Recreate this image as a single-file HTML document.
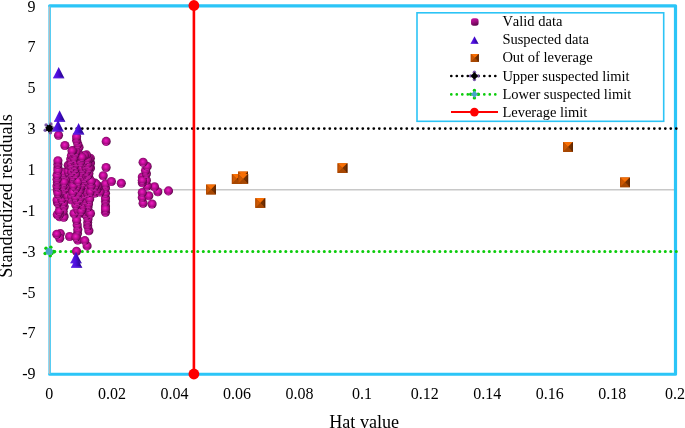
<!DOCTYPE html>
<html><head><meta charset="utf-8"><title>Williams plot</title>
<style>
html,body{margin:0;padding:0;background:#fff;}
body{width:685px;height:428px;overflow:hidden;font-family:"Liberation Serif",serif;}
svg{display:block;will-change:transform;}
text{font-family:"Liberation Serif",serif;fill:#000;font-kerning:none;}
</style></head><body>
<svg width="685" height="428" viewBox="0 0 685 428">
<defs>
<radialGradient id="gs" cx="0.47" cy="0.45" r="0.56" fx="0.46" fy="0.40">
<stop offset="0" stop-color="#f020c4"/><stop offset="0.36" stop-color="#cc10a2"/><stop offset="0.72" stop-color="#980a78"/><stop offset="1" stop-color="#46023a"/>
</radialGradient>
<g id="sp"><circle r="4.55" fill="url(#gs)"/><ellipse cx="-0.3" cy="3.55" rx="2.5" ry="0.85" fill="#f02cc8" opacity="0.55"/></g>
<linearGradient id="gl" x1="0" x2="0.3" y1="0" y2="1"><stop offset="0" stop-color="#c812a0"/><stop offset="0.5" stop-color="#a40e84"/><stop offset="1" stop-color="#640650"/></linearGradient>
<g id="sq"><rect x="-4.9" y="-4.9" width="9.8" height="9.8" fill="#a84802"/>
<path d="M-4.9-4.9H4.9L0 0Z" fill="#f76e04"/><path d="M-4.9-4.9L0 0L-4.9 4.9Z" fill="#cc5803"/><path d="M4.9-4.9L0 0L4.9 4.9Z" fill="#743000"/><path d="M-4.9 4.9L0 0L4.9 4.9Z" fill="#a64702"/><path d="M4.9-4.9V4.9L3.6 3.6V-3.6Z" fill="#4e1e00" opacity="0.6"/><path d="M-4.9-4.9V4.9L-3.9 3.9V-3.9Z" fill="#9a3c00" opacity="0.5"/></g>
<linearGradient id="gt" x1="0" x2="1" y1="0" y2="0"><stop offset="0" stop-color="#6224ea"/><stop offset="0.42" stop-color="#4c0cdc"/><stop offset="0.62" stop-color="#3a08b8"/><stop offset="1" stop-color="#1c0670"/></linearGradient>
<g id="tr"><path d="M0 -0.2L5.7 11.2H-5.7Z" fill="url(#gt)"/><path d="M-5.7 11.2L-4.9 9.6H4.9L5.7 11.2Z" fill="#5a1ee6" opacity="0.7"/></g>
</defs>
<rect width="685" height="428" fill="#fff"/>

<line x1="49.5" x2="675.5" y1="189.75" y2="189.75" stroke="#c8c8c8" stroke-width="1.6"/>
<path d="M49.7 5.8H675.5V374.25H49.7" fill="none" stroke="#2bc5f7" stroke-width="3.2" stroke-linejoin="round" stroke-linecap="round"/>
<line x1="49.65" x2="49.65" y1="5.5" y2="374.25" stroke="#3ec9f7" stroke-width="2.5"/>
<line x1="49.5" x2="49.5" y1="6.5" y2="374.0" stroke="#b6b6b6" stroke-width="1.15"/>
<line x1="49.3" x2="677" y1="128.53" y2="128.53" stroke="#000" stroke-width="2.8" stroke-linecap="round" stroke-dasharray="0 5.5"/>
<line x1="49.3" x2="677" y1="251.47" y2="251.47" stroke="#0ccc0c" stroke-width="3.1" stroke-linecap="round" stroke-dasharray="0 5.5"/>
<g transform="translate(49.3,128.3) scale(1.0)"><circle cx="-3.18" cy="-3.18" r="1.75" fill="#7a58a8"/><circle cx="1.61" cy="-4.20" r="1.75" fill="#7a58a8"/><circle cx="4.50" cy="0.16" r="2.0" fill="#7a58a8"/><circle cx="1.09" cy="4.37" r="1.75" fill="#7a58a8"/><circle cx="-4.08" cy="1.90" r="1.75" fill="#7a58a8"/><circle cx="3.07" cy="2.40" r="1.1" fill="#7a58a8"/><circle r="3.1" fill="#000"/></g><polygon points="53.53,129.05 51.75,129.86 51.77,131.82 49.93,131.13 48.55,132.53 47.74,130.75 45.78,130.77 46.47,128.93 45.07,127.55 46.85,126.74 46.83,124.78 48.67,125.47 50.05,124.07 50.86,125.85 52.82,125.83 52.13,127.67" fill="#000"/>
<g transform="translate(49.2,251.5) scale(1.0)"><circle cx="-3.18" cy="-3.18" r="1.75" fill="#0ccc0c"/><circle cx="1.61" cy="-4.20" r="1.75" fill="#0ccc0c"/><circle cx="4.50" cy="0.16" r="2.0" fill="#0ccc0c"/><circle cx="1.09" cy="4.37" r="1.75" fill="#0ccc0c"/><circle cx="-4.08" cy="1.90" r="1.75" fill="#0ccc0c"/><circle cx="3.07" cy="2.40" r="1.1" fill="#0ccc0c"/><circle r="3.6" fill="#48a4c6"/></g>
<g>
<use href="#sp" x="76.5" y="251.2"/>
<use href="#sp" x="87.1" y="245.9"/>
<use href="#sp" x="77.8" y="240.0"/>
<use href="#sp" x="84.8" y="240.6"/>
<use href="#sp" x="77.5" y="233.5"/>
<use href="#sp" x="60.3" y="233.6"/>
<use href="#sp" x="59.7" y="238.3"/>
<use href="#sp" x="69.6" y="236.5"/>
<use href="#sp" x="76.0" y="237.1"/>
<use href="#sp" x="77.8" y="229.5"/>
<use href="#sp" x="56.8" y="234.2"/>
<use href="#sp" x="88.9" y="230.7"/>
<use href="#sp" x="87.7" y="226.0"/>
<use href="#sp" x="77.2" y="224.9"/>
<use href="#sp" x="87.7" y="222.5"/>
<use href="#sp" x="88.0" y="219.0"/>
<use href="#sp" x="76.0" y="215.5"/>
<use href="#sp" x="84.0" y="213.5"/>
<use href="#sp" x="86.5" y="215.5"/>
<use href="#sp" x="76.6" y="220.2"/>
<use href="#sp" x="59.7" y="216.7"/>
<use href="#sp" x="64.0" y="215.9"/>
<use href="#sp" x="85.1" y="213.1"/>
<use href="#sp" x="63.8" y="217.3"/>
<use href="#sp" x="79.0" y="213.5"/>
<use href="#sp" x="63.2" y="211.3"/>
<use href="#sp" x="74.0" y="213.5"/>
<use href="#sp" x="89.0" y="212.5"/>
<use href="#sp" x="59.7" y="214.3"/>
<use href="#sp" x="86.8" y="208.7"/>
<use href="#sp" x="90.5" y="213.5"/>
<use href="#sp" x="57.3" y="214.8"/>
<use href="#sp" x="88.0" y="207.1"/>
<use href="#sp" x="81.1" y="206.1"/>
<use href="#sp" x="82.0" y="209.8"/>
<use href="#sp" x="105.5" y="212.3"/>
<use href="#sp" x="78.1" y="210.4"/>
<use href="#sp" x="59.8" y="206.7"/>
<use href="#sp" x="81.1" y="210.7"/>
<use href="#sp" x="84.7" y="204.2"/>
<use href="#sp" x="59.2" y="211.2"/>
<use href="#sp" x="105.5" y="206.0"/>
<use href="#sp" x="64.2" y="206.6"/>
<use href="#sp" x="105.5" y="209.0"/>
<use href="#sp" x="143.1" y="203.2"/>
<use href="#sp" x="105.5" y="201.5"/>
<use href="#sp" x="70.9" y="199.8"/>
<use href="#sp" x="63.5" y="203.1"/>
<use href="#sp" x="57.5" y="202.7"/>
<use href="#sp" x="57.1" y="200.0"/>
<use href="#sp" x="152.1" y="204.0"/>
<use href="#sp" x="83.1" y="205.8"/>
<use href="#sp" x="75.8" y="205.0"/>
<use href="#sp" x="80.4" y="201.6"/>
<use href="#sp" x="83.2" y="199.1"/>
<use href="#sp" x="84.4" y="202.4"/>
<use href="#sp" x="77.2" y="201.1"/>
<use href="#sp" x="88.5" y="203.9"/>
<use href="#sp" x="61.8" y="199.1"/>
<use href="#sp" x="84.9" y="200.0"/>
<use href="#sp" x="142.3" y="197.5"/>
<use href="#sp" x="61.7" y="194.6"/>
<use href="#sp" x="86.3" y="196.8"/>
<use href="#sp" x="67.6" y="195.8"/>
<use href="#sp" x="105.5" y="198.0"/>
<use href="#sp" x="87.4" y="195.5"/>
<use href="#sp" x="80.2" y="198.1"/>
<use href="#sp" x="91.1" y="194.3"/>
<use href="#sp" x="148.8" y="195.8"/>
<use href="#sp" x="142.3" y="192.5"/>
<use href="#sp" x="157.8" y="191.7"/>
<use href="#sp" x="89.7" y="199.1"/>
<use href="#sp" x="105.5" y="193.2"/>
<use href="#sp" x="58.9" y="194.7"/>
<use href="#sp" x="71.4" y="196.1"/>
<use href="#sp" x="75.3" y="197.1"/>
<use href="#sp" x="98.3" y="190.8"/>
<use href="#sp" x="79.9" y="194.4"/>
<use href="#sp" x="94.6" y="191.0"/>
<use href="#sp" x="57.3" y="189.5"/>
<use href="#sp" x="82.0" y="190.5"/>
<use href="#sp" x="84.2" y="194.1"/>
<use href="#sp" x="57.7" y="190.5"/>
<use href="#sp" x="68.7" y="190.4"/>
<use href="#sp" x="71.9" y="189.1"/>
<use href="#sp" x="77.7" y="193.6"/>
<use href="#sp" x="87.3" y="193.0"/>
<use href="#sp" x="63.8" y="189.8"/>
<use href="#sp" x="89.1" y="187.6"/>
<use href="#sp" x="85.9" y="188.7"/>
<use href="#sp" x="66.2" y="186.7"/>
<use href="#sp" x="95.0" y="193.0"/>
<use href="#sp" x="72.8" y="192.3"/>
<use href="#sp" x="57.8" y="193.0"/>
<use href="#sp" x="105.5" y="188.0"/>
<use href="#sp" x="79.8" y="190.5"/>
<use href="#sp" x="82.0" y="186.0"/>
<use href="#sp" x="58.3" y="187.1"/>
<use href="#sp" x="93.6" y="188.6"/>
<use href="#sp" x="90.4" y="191.7"/>
<use href="#sp" x="100.0" y="192.0"/>
<use href="#sp" x="154.5" y="186.8"/>
<use href="#sp" x="99.0" y="186.5"/>
<use href="#sp" x="168.5" y="190.9"/>
<use href="#sp" x="63.3" y="185.7"/>
<use href="#sp" x="105.5" y="183.9"/>
<use href="#sp" x="96.8" y="189.7"/>
<use href="#sp" x="121.3" y="183.3"/>
<use href="#sp" x="86.5" y="183.8"/>
<use href="#sp" x="80.6" y="186.5"/>
<use href="#sp" x="66.2" y="182.1"/>
<use href="#sp" x="76.1" y="188.1"/>
<use href="#sp" x="95.0" y="183.1"/>
<use href="#sp" x="97.5" y="186.0"/>
<use href="#sp" x="77.4" y="185.2"/>
<use href="#sp" x="147.2" y="186.0"/>
<use href="#sp" x="83.8" y="182.1"/>
<use href="#sp" x="58.4" y="182.2"/>
<use href="#sp" x="94.7" y="186.9"/>
<use href="#sp" x="111.4" y="181.5"/>
<use href="#sp" x="88.5" y="182.9"/>
<use href="#sp" x="86.2" y="179.7"/>
<use href="#sp" x="96.0" y="184.0"/>
<use href="#sp" x="57.0" y="186.0"/>
<use href="#sp" x="57.4" y="182.5"/>
<use href="#sp" x="91.1" y="185.7"/>
<use href="#sp" x="73.2" y="185.5"/>
<use href="#sp" x="72.8" y="179.7"/>
<use href="#sp" x="76.9" y="180.9"/>
<use href="#sp" x="146.4" y="180.3"/>
<use href="#sp" x="142.3" y="182.7"/>
<use href="#sp" x="78.6" y="177.5"/>
<use href="#sp" x="142.3" y="177.0"/>
<use href="#sp" x="74.4" y="177.4"/>
<use href="#sp" x="63.5" y="177.8"/>
<use href="#sp" x="65.9" y="178.9"/>
<use href="#sp" x="89.4" y="178.8"/>
<use href="#sp" x="91.1" y="181.3"/>
<use href="#sp" x="78.1" y="181.3"/>
<use href="#sp" x="142.3" y="180.3"/>
<use href="#sp" x="64.1" y="182.1"/>
<use href="#sp" x="57.1" y="179.2"/>
<use href="#sp" x="66.8" y="174.5"/>
<use href="#sp" x="84.1" y="174.2"/>
<use href="#sp" x="72.7" y="176.2"/>
<use href="#sp" x="81.9" y="173.6"/>
<use href="#sp" x="74.9" y="173.6"/>
<use href="#sp" x="103.2" y="175.7"/>
<use href="#sp" x="84.1" y="178.0"/>
<use href="#sp" x="69.0" y="172.4"/>
<use href="#sp" x="80.5" y="174.1"/>
<use href="#sp" x="86.7" y="176.3"/>
<use href="#sp" x="88.1" y="175.1"/>
<use href="#sp" x="57.9" y="173.6"/>
<use href="#sp" x="63.8" y="173.9"/>
<use href="#sp" x="63.2" y="172.4"/>
<use href="#sp" x="87.5" y="171.4"/>
<use href="#sp" x="79.6" y="170.0"/>
<use href="#sp" x="68.1" y="171.1"/>
<use href="#sp" x="57.1" y="175.3"/>
<use href="#sp" x="146.4" y="173.7"/>
<use href="#sp" x="88.9" y="173.6"/>
<use href="#sp" x="75.5" y="173.9"/>
<use href="#sp" x="90.5" y="168.0"/>
<use href="#sp" x="86.6" y="171.5"/>
<use href="#sp" x="145.5" y="170.5"/>
<use href="#sp" x="68.2" y="165.3"/>
<use href="#sp" x="77.3" y="165.1"/>
<use href="#sp" x="71.6" y="171.7"/>
<use href="#sp" x="106.1" y="167.5"/>
<use href="#sp" x="57.9" y="167.7"/>
<use href="#sp" x="82.7" y="169.8"/>
<use href="#sp" x="74.3" y="169.9"/>
<use href="#sp" x="57.9" y="170.4"/>
<use href="#sp" x="76.0" y="167.7"/>
<use href="#sp" x="88.6" y="167.8"/>
<use href="#sp" x="84.1" y="166.7"/>
<use href="#sp" x="81.9" y="167.7"/>
<use href="#sp" x="90.5" y="163.0"/>
<use href="#sp" x="69.0" y="165.4"/>
<use href="#sp" x="85.9" y="167.2"/>
<use href="#sp" x="71.2" y="166.8"/>
<use href="#sp" x="88.9" y="167.7"/>
<use href="#sp" x="87.7" y="163.0"/>
<use href="#sp" x="74.6" y="165.1"/>
<use href="#sp" x="78.9" y="161.6"/>
<use href="#sp" x="85.8" y="164.4"/>
<use href="#sp" x="147.2" y="166.4"/>
<use href="#sp" x="87.7" y="163.8"/>
<use href="#sp" x="71.0" y="163.4"/>
<use href="#sp" x="57.9" y="164.2"/>
<use href="#sp" x="83.4" y="161.4"/>
<use href="#sp" x="57.9" y="160.7"/>
<use href="#sp" x="74.9" y="161.9"/>
<use href="#sp" x="76.0" y="157.2"/>
<use href="#sp" x="90.3" y="158.2"/>
<use href="#sp" x="85.8" y="159.5"/>
<use href="#sp" x="88.9" y="159.0"/>
<use href="#sp" x="143.1" y="162.3"/>
<use href="#sp" x="76.7" y="161.8"/>
<use href="#sp" x="80.7" y="161.9"/>
<use href="#sp" x="87.4" y="159.1"/>
<use href="#sp" x="86.5" y="154.9"/>
<use href="#sp" x="70.7" y="159.1"/>
<use href="#sp" x="79.9" y="158.4"/>
<use href="#sp" x="84.4" y="155.5"/>
<use href="#sp" x="71.4" y="155.6"/>
<use href="#sp" x="73.9" y="157.8"/>
<use href="#sp" x="81.0" y="156.9"/>
<use href="#sp" x="78.5" y="154.0"/>
<use href="#sp" x="81.9" y="157.2"/>
<use href="#sp" x="74.9" y="154.5"/>
<use href="#sp" x="79.0" y="147.3"/>
<use href="#sp" x="76.0" y="151.4"/>
<use href="#sp" x="73.0" y="150.6"/>
<use href="#sp" x="72.0" y="150.8"/>
<use href="#sp" x="64.9" y="145.5"/>
<use href="#sp" x="77.8" y="144.0"/>
<use href="#sp" x="76.6" y="140.3"/>
<use href="#sp" x="106.2" y="141.4"/>
<use href="#sp" x="76.6" y="136.8"/>
<use href="#sp" x="58.5" y="135.2"/>
</g>
<use href="#tr" x="58.7" y="67.1"/>
<use href="#tr" x="59.6" y="110.5"/>
<use href="#tr" x="58.0" y="120.2"/>
<use href="#tr" x="78.6" y="123.2"/>
<use href="#tr" x="76.0" y="252.0"/>
<use href="#tr" x="76.6" y="256.6"/>
<use href="#sq" x="211.0" y="189.5"/>
<use href="#sq" x="236.8" y="179.0"/>
<use href="#sq" x="243.1" y="176.5"/>
<use href="#sq" x="243.2" y="178.9"/>
<use href="#sq" x="260.3" y="203.0"/>
<use href="#sq" x="342.5" y="168.1"/>
<use href="#sq" x="568.0" y="147.0"/>
<use href="#sq" x="625.0" y="182.3"/>
<line x1="193.9" x2="193.9" y1="5.5" y2="374.0" stroke="#fe0000" stroke-width="2.6"/>
<circle cx="193.9" cy="5.5" r="5.4" fill="#fe0000"/><circle cx="193.9" cy="374.0" r="5.4" fill="#fe0000"/>
<rect x="417" y="12.8" width="246.7" height="108.5" fill="#fff" stroke="#2cc4f6" stroke-width="1.6"/>
<rect x="471" y="18.3" width="7.6" height="7.4" rx="2.6" fill="url(#gl)"/>
<use href="#tr" transform="translate(474.5,36.3) scale(0.70,0.67)"/>
<use href="#sq" transform="translate(474.8,58) scale(0.81)"/>
<line x1="451.3" x2="496" y1="76.0" y2="76.0" stroke="#000" stroke-width="2.7" stroke-linecap="round" stroke-dasharray="0 5.5"/>
<g transform="translate(474.4,75.9)"><circle cx="0" cy="-3.7" r="1.7" fill="#7c5aaa"/><circle cx="3.7" cy="0" r="1.7" fill="#7c5aaa"/><circle cx="0" cy="3.7" r="1.7" fill="#7c5aaa"/><circle cx="-3.7" cy="0" r="1.7" fill="#7c5aaa"/><rect x="-2.7" y="-2.7" width="5.4" height="5.4" transform="rotate(45)" fill="#000"/></g>
<line x1="451.3" x2="496" y1="94.4" y2="94.4" stroke="#0ccc0c" stroke-width="2.7" stroke-linecap="round" stroke-dasharray="0 5.5"/>
<g transform="translate(474.4,94.2)"><circle cx="0" cy="-3.7" r="1.7" fill="#0ccc0c"/><circle cx="3.7" cy="0" r="1.7" fill="#0ccc0c"/><circle cx="0" cy="3.7" r="1.7" fill="#0ccc0c"/><circle cx="-3.7" cy="0" r="1.7" fill="#0ccc0c"/><rect x="-2.5" y="-2.5" width="5.0" height="5.0" transform="rotate(45)" fill="#48a4c6"/></g>
<line x1="451" x2="498" y1="112.1" y2="112.1" stroke="#fe0000" stroke-width="2"/><circle cx="474.4" cy="112.1" r="4.35" fill="#fe0000"/>
<text x="502.4" y="25.9" font-size="14.5">Valid data</text>
<text x="502.4" y="44.0" font-size="14.5">Suspected data</text>
<text x="502.4" y="62.4" font-size="14.5">Out of leverage</text>
<text x="502.4" y="80.6" font-size="14.5">Upper suspected limit</text>
<text x="502.4" y="98.7" font-size="14.5">Lower suspected limit</text>
<text x="502.4" y="116.6" font-size="14.5">Leverage limit</text>
<text x="35.6" y="12.0" font-size="16" text-anchor="end">9</text>
<text x="35.6" y="52.3" font-size="16" text-anchor="end">7</text>
<text x="35.6" y="93.1" font-size="16" text-anchor="end">5</text>
<text x="35.6" y="134.0" font-size="16" text-anchor="end">3</text>
<text x="35.6" y="174.9" font-size="16" text-anchor="end">1</text>
<text x="35.6" y="215.8" font-size="16" text-anchor="end">-1</text>
<text x="35.6" y="256.7" font-size="16" text-anchor="end">-3</text>
<text x="35.6" y="297.6" font-size="16" text-anchor="end">-5</text>
<text x="35.6" y="338.4" font-size="16" text-anchor="end">-7</text>
<text x="35.6" y="379.3" font-size="16" text-anchor="end">-9</text>
<text x="49.3" y="398.7" font-size="16" text-anchor="middle">0</text>
<text x="111.9" y="398.7" font-size="16" text-anchor="middle">0.02</text>
<text x="174.4" y="398.7" font-size="16" text-anchor="middle">0.04</text>
<text x="237.0" y="398.7" font-size="16" text-anchor="middle">0.06</text>
<text x="299.5" y="398.7" font-size="16" text-anchor="middle">0.08</text>
<text x="362.1" y="398.7" font-size="16" text-anchor="middle">0.1</text>
<text x="424.7" y="398.7" font-size="16" text-anchor="middle">0.12</text>
<text x="487.2" y="398.7" font-size="16" text-anchor="middle">0.14</text>
<text x="549.8" y="398.7" font-size="16" text-anchor="middle">0.16</text>
<text x="612.3" y="398.7" font-size="16" text-anchor="middle">0.18</text>
<text x="674.9" y="398.7" font-size="16" text-anchor="middle">0.2</text>
<text x="364.2" y="428.1" font-size="18.1" text-anchor="middle">Hat value</text>
<text transform="translate(12.4,196) rotate(-90)" font-size="18.12" text-anchor="middle">Standardized residuals</text>
</svg></body></html>
